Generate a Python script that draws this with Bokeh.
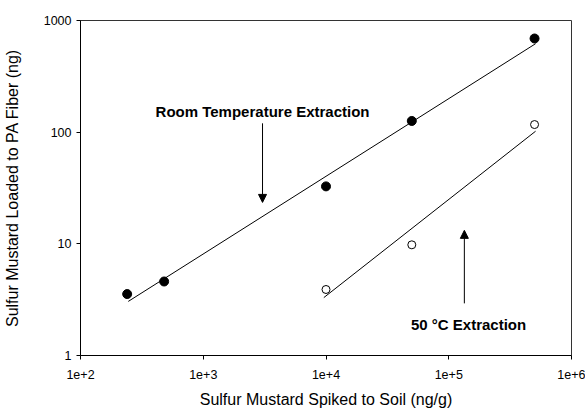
from bokeh.plotting import figure
from bokeh.models import (Range1d, FixedTicker, CustomJSTickFormatter, Arrow,
                          NormalHead, Label)
from bokeh.embed import file_html
from bokeh.resources import INLINE

# ---- data ----
rt_x = [240, 480, 10000, 50000, 500000]
rt_y = [3.55, 4.6, 32.7, 126, 690]
hot_x = [10000, 50000, 500000]
hot_y = [3.9, 9.8, 117]
rt_fit_x = [245, 510000]
rt_fit_y = [3.05, 620]
hot_fit_x = [9600, 510000]
hot_fit_y = [3.3, 102]
x_ticks = [100, 1000, 10000, 100000, 1000000]
x_tick_labels = ["1e+2", "1e+3", "1e+4", "1e+5", "1e+6"]
y_ticks = [1, 10, 100, 1000]
y_tick_labels = ["1", "10", "100", "1000"]

FONT = "Liberation Sans"

p = figure(width=585, height=412, x_axis_type="log", y_axis_type="log",
           x_range=Range1d(100, 1000000), y_range=Range1d(1, 1000),
           output_backend="svg", toolbar_location=None,
           min_border_left=80, min_border_right=14, min_border_top=20,
           min_border_bottom=57)
p.background_fill_color = "white"
p.border_fill_color = "white"
p.outline_line_color = "#333333"
p.outline_line_width = 1
p.xgrid.visible = False
p.ygrid.visible = False

fmt_code = """
for (let i = 0; i < tvals.length; i++) {
  if (Math.abs(Math.log10(tick) - Math.log10(tvals[i])) < 1e-6) return tlabels[i];
}
return '';
"""
p.xaxis.ticker = FixedTicker(ticks=x_ticks)
p.yaxis.ticker = FixedTicker(ticks=y_ticks)
p.xaxis.formatter = CustomJSTickFormatter(args=dict(tvals=x_ticks, tlabels=x_tick_labels), code=fmt_code)
p.yaxis.formatter = CustomJSTickFormatter(args=dict(tvals=y_ticks, tlabels=y_tick_labels), code=fmt_code)

for ax in (p.xaxis, p.yaxis):
    ax.axis_line_color = "black"
    ax.axis_line_width = 1
    ax.major_tick_line_color = "black"
    ax.major_tick_in = 0
    ax.major_tick_out = 4
    ax.minor_tick_line_color = None
    ax.major_label_text_font = FONT
    ax.major_label_text_font_size = "12.5px"
    ax.major_label_text_color = "black"
    ax.axis_label_text_font = FONT
    ax.axis_label_text_font_size = "16px"
    ax.axis_label_text_font_style = "normal"
    ax.axis_label_text_color = "black"

p.xaxis.axis_label = "Sulfur Mustard Spiked to Soil (ng/g)"
p.yaxis.axis_label = "Sulfur Mustard Loaded to PA Fiber (ng)"
p.xaxis.major_label_standoff = 10
p.xaxis.axis_label_standoff = 9
p.yaxis.major_label_standoff = 5
p.yaxis.axis_label_standoff = 20

# fit lines
p.line(rt_fit_x, rt_fit_y, line_color="black", line_width=1)
p.line(hot_fit_x, hot_fit_y, line_color="black", line_width=1)

# points
p.scatter(rt_x, rt_y, size=9, marker="circle", fill_color="black", line_color="black")
p.scatter(hot_x, hot_y, size=8, marker="circle", fill_color="white", line_color="black", line_width=1)

# arrows
p.add_layout(Arrow(end=NormalHead(size=8, fill_color="black", line_color="black"),
                   x_start=3040, y_start=120, x_end=3040, y_end=23.5,
                   line_color="black", line_width=1))
p.add_layout(Arrow(end=NormalHead(size=8, fill_color="black", line_color="black"),
                   x_start=134000, y_start=2.93, x_end=134000, y_end=13.2,
                   line_color="black", line_width=1))

# annotations
p.add_layout(Label(x=3040, y=153, text="Room Temperature Extraction",
                   text_font=FONT, text_font_size="15px", text_font_style="bold",
                   text_align="center", text_baseline="middle", text_color="black"))
p.add_layout(Label(x=145000, y=1.9, text="50 °C Extraction",
                   text_font=FONT, text_font_size="15px", text_font_style="bold",
                   text_align="center", text_baseline="middle", text_color="black"))

open("out.html", "w").write(file_html(p, INLINE))
